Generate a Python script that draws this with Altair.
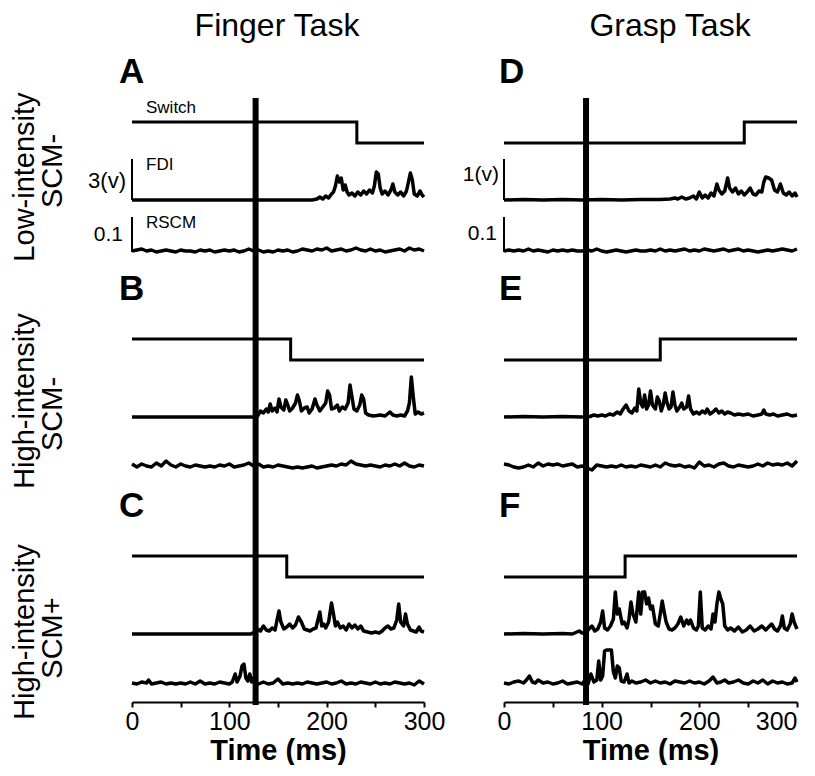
import altair as alt
import pandas as pd

# ---------------- data ----------------
TIME_TICKS = [0, 50, 100, 150, 200, 250, 300]
COLUMNS = ["Finger Task", "Grasp Task"]
PANELS = {"Finger Task": ["A", "B", "C"], "Grasp Task": ["D", "E", "F"]}
ROW_LABELS = [("Low-intensity", "SCM-"), ("High-intensity", "SCM-"), ("High-intensity", "SCM+")]
STIM_MS = {"Finger Task": 127, "Grasp Task": 84}
SWITCH_START = {"Finger Task": 1, "Grasp Task": 0}
SWITCH_MS = {"A": 231, "B": 163, "C": 159, "D": 246, "E": 160, "F": 124}
FDI_BAR_LABEL = {"Finger Task": "3(v)", "Grasp Task": "1(v)"}
RSCM_BAR_LABEL = "0.1"

# FDI EMG envelopes: (time ms, amplitude in display units; scale bar = 41 units)
FDI = {
    "A": [(0, 0), (185, 0), (190, 1), (193, 3), (196, 1), (199, 4), (202, 2), (205, 6), (207, 8), (209, 14),
          (211, 24), (213, 18), (215, 22), (217, 10), (219, 15), (221, 8), (223, 5), (226, 7), (229, 4), (232, 8),
          (235, 5), (238, 9), (241, 6), (244, 10), (247, 7), (249, 14), (251, 28), (253, 26), (255, 12), (257, 6),
          (260, 9), (263, 5), (266, 10), (268, 16), (270, 8), (273, 5), (276, 8), (279, 4), (282, 9), (284, 18),
          (286, 27), (288, 20), (290, 6), (293, 4), (296, 9), (298, 5), (300, 3)],
    "B": [(0, 0), (125, 0), (127, 3), (129, 1), (132, 6), (135, 4), (138, 8), (140, 5), (142, 13), (144, 6),
          (147, 9), (149, 5), (151, 18), (153, 10), (156, 7), (158, 17), (160, 12), (162, 6), (165, 9), (168, 14),
          (170, 22), (172, 16), (174, 6), (177, 9), (180, 10), (182, 4), (185, 8), (188, 18), (190, 12), (193, 6),
          (196, 10), (199, 14), (201, 26), (203, 22), (205, 8), (208, 9), (211, 12), (213, 6), (216, 10), (219, 8),
          (222, 14), (224, 32), (226, 20), (228, 8), (231, 6), (234, 12), (236, 22), (238, 18), (240, 4), (243, 2),
          (248, 1), (255, 2), (260, 1), (265, 5), (268, 2), (272, 1), (276, 2), (280, 1), (283, 6), (285, 14),
          (287, 40), (289, 20), (291, 3), (294, 5), (297, 3), (300, 4)],
    "C": [(0, 0), (122, 0), (126, 2), (129, 5), (132, 3), (135, 8), (138, 4), (141, 3), (144, 6), (147, 4),
          (149, 14), (151, 23), (153, 12), (156, 5), (159, 7), (162, 10), (165, 6), (168, 9), (171, 17), (174, 12),
          (177, 5), (180, 4), (183, 3), (186, 5), (189, 6), (191, 14), (193, 22), (195, 8), (197, 10), (199, 6),
          (202, 12), (205, 31), (207, 20), (209, 8), (211, 12), (214, 6), (217, 8), (220, 4), (223, 10), (226, 6),
          (229, 9), (232, 5), (235, 8), (238, 3), (242, 2), (246, 1), (250, 2), (254, 1), (257, 3), (260, 6),
          (263, 8), (266, 5), (269, 6), (272, 14), (274, 30), (276, 12), (279, 8), (281, 20), (283, 10), (286, 4),
          (289, 3), (292, 2), (295, 7), (297, 3), (300, 2)],
    "D": [(0, 0), (20, 0.5), (40, 0), (60, 0.5), (80, 0), (100, 0.5), (120, 0), (140, 0.5), (160, 0.5), (170, 1),
          (175, 2), (178, 1), (182, 3), (186, 1), (190, 2), (194, 4), (197, 1), (200, 8), (203, 2), (206, 5),
          (209, 2), (212, 7), (215, 4), (218, 16), (220, 10), (223, 6), (226, 9), (229, 22), (231, 12), (234, 8),
          (237, 12), (240, 6), (243, 9), (246, 5), (249, 8), (252, 12), (255, 6), (258, 5), (261, 9), (264, 8),
          (266, 18), (268, 23), (271, 22), (274, 20), (277, 10), (280, 8), (283, 16), (286, 7), (289, 5), (292, 8),
          (295, 4), (298, 7), (300, 3)],
    "E": [(0, 0), (20, 0.5), (40, 0), (60, 0.5), (80, 0), (88, 0.5), (92, 2), (96, 1), (100, 2), (104, 1),
          (108, 3), (112, 2), (116, 5), (119, 3), (122, 8), (125, 12), (128, 6), (131, 4), (134, 9), (136, 6),
          (138, 28), (140, 14), (142, 10), (144, 22), (146, 8), (148, 12), (150, 26), (152, 12), (155, 8), (157, 20),
          (159, 16), (161, 6), (163, 12), (165, 24), (167, 14), (169, 8), (171, 10), (173, 25), (175, 12), (177, 6),
          (180, 10), (182, 14), (184, 8), (187, 10), (189, 21), (191, 8), (194, 3), (197, 5), (200, 3), (203, 6),
          (206, 4), (208, 8), (211, 3), (214, 5), (217, 8), (220, 4), (223, 6), (226, 3), (229, 5), (232, 4),
          (236, 2), (240, 3), (245, 2), (250, 3), (255, 1), (260, 2), (264, 3), (266, 7), (268, 3), (272, 2),
          (276, 3), (280, 1), (285, 2), (290, 3), (295, 1), (300, 2)],
    "F": [(0, 0), (20, 0.5), (40, 0), (60, 0.5), (70, 0), (77, 3), (80, 1), (84, 2), (87, 5), (90, 8),
          (93, 3), (96, 5), (99, 12), (101, 23), (103, 6), (106, 4), (109, 8), (112, 15), (114, 42), (116, 20),
          (118, 25), (121, 10), (123, 12), (126, 6), (128, 15), (130, 32), (132, 20), (135, 12), (138, 42), (140, 20),
          (142, 42), (144, 42), (146, 30), (148, 36), (150, 25), (152, 28), (155, 10), (158, 8), (160, 20), (162, 33),
          (164, 22), (166, 12), (169, 5), (172, 4), (175, 6), (178, 10), (181, 17), (184, 8), (187, 14), (189, 10),
          (191, 14), (194, 6), (197, 4), (199, 8), (201, 42), (203, 6), (206, 4), (209, 8), (212, 5), (214, 20),
          (216, 12), (218, 30), (220, 42), (222, 35), (224, 30), (226, 8), (229, 4), (232, 6), (236, 3), (240, 7),
          (244, 2), (248, 4), (252, 8), (256, 3), (260, 5), (264, 8), (268, 4), (271, 7), (274, 10), (277, 5),
          (280, 3), (283, 8), (285, 18), (287, 6), (290, 4), (293, 10), (295, 20), (297, 12), (300, 5)],
}

# RSCM EMG sampled every 5 ms (amplitude in display units; scale bar = 35 units)
RSCM_5MS = {
    "A": [1, 2, 3, 1, 2, 0, 1, 2, 1, 0, 2, 1, 1, 0, 2, 1, 2, 0, 1, 2, 1, 2, 0, 1, 3, 1, 2, 0, 1, 0, 2,
          1, 2, 0, 1, 3, 2, 1, 3, 2, 4, 1, 2, 3, 1, 2, 4, 2, 1, 3, 1, 2, 0, 1, 2, 3, 1, 4, 2, 3, 1],
    "B": [5, 2, 5, 3, 2, 6, 3, 8, 4, 2, 5, 3, 2, 4, 3, 2, 3, 2, 4, 3, 5, 2, 3, 4, 6, 3, 5, 2, 3, 2, 4,
          3, 2, 1, 2, 1, 2, 3, 1, 2, 3, 4, 3, 5, 4, 8, 5, 4, 3, 4, 3, 2, 4, 3, 5, 3, 6, 3, 2, 4, 3],
    "D": [1, 2, 1, 2, 1, 3, 1, 2, 1, 0, 2, 1, 2, 1, 2, 1, 1, 2, 1, 3, 1, 0, 1, 2, 1, 0, 1, 2, 1, 1, 2,
          1, 3, 1, 2, 1, 2, 3, 1, 2, 1, 3, 2, 1, 2, 3, 1, 2, 3, 1, 2, 1, 0, 1, 2, 1, 2, 3, 2, 1, 3],
    "E": [5, 4, 2, 1, 2, 4, 2, 6, 3, 5, 4, 5, 3, 4, 5, 2, 3, 1, -1, 4, 3, 2, 3, 2, 4, 2, 3, 2, 4, 3, 2,
          4, 2, 6, 4, 3, 4, 2, 3, 1, 7, 3, 4, 2, 5, 6, 3, 2, 4, 3, 2, 3, 5, 3, 6, 4, 5, 4, 6, 3, 8],
}
RSCM_PTS = {
    "C": [(0, 3), (5, 2), (10, 4), (15, 3), (17, 6), (20, 2), (25, 3), (30, 4), (35, 2), (40, 3), (45, 2),
          (50, 3), (55, 2), (60, 4), (65, 2), (70, 5), (75, 2), (80, 3), (85, 2), (90, 4), (95, 3), (100, 2),
          (103, 4), (106, 12), (108, 4), (111, 10), (113, 20), (115, 22), (117, 8), (119, 5), (121, 12), (123, 4),
          (125, 8), (127, 3), (130, 2), (135, 4), (140, 2), (145, 3), (150, 7), (153, 4), (155, 2), (160, 3),
          (165, 2), (170, 3), (175, 2), (180, 4), (185, 3), (190, 2), (195, 3), (200, 4), (205, 2), (210, 3),
          (215, 5), (220, 2), (225, 3), (230, 2), (235, 4), (240, 3), (245, 2), (250, 4), (255, 2), (260, 3),
          (265, 2), (270, 4), (275, 3), (280, 2), (285, 3), (290, 1), (295, 5), (300, 2)],
    "F": [(0, 3), (5, 2), (10, 4), (15, 5), (20, 3), (23, 6), (26, 10), (29, 4), (32, 3), (35, 6), (40, 3),
          (45, 4), (50, 2), (55, 3), (60, 5), (65, 2), (70, 3), (75, 4), (80, 2), (83, 6), (86, 2), (89, 12),
          (92, 4), (95, 6), (97, 25), (99, 6), (101, 10), (103, 35), (105, 36), (107, 36), (110, 36), (112, 14),
          (114, 8), (116, 20), (118, 18), (120, 5), (123, 4), (126, 12), (128, 3), (131, 5), (135, 3), (140, 4),
          (145, 6), (150, 3), (155, 5), (160, 3), (165, 4), (170, 2), (175, 5), (180, 4), (185, 3), (190, 5),
          (195, 3), (200, 4), (205, 2), (210, 5), (214, 9), (218, 3), (222, 4), (226, 6), (230, 3), (235, 4),
          (240, 6), (245, 3), (250, 2), (255, 5), (260, 3), (265, 6), (270, 2), (275, 5), (280, 3), (285, 4),
          (290, 2), (295, 3), (298, 8), (300, 4)],
}

# ---------------- layout (display units, measured downward from plot top) ----------------
PLOT_H = 604
WIDTH = {"Finger Task": 292, "Grasp Task": 293}
ROW_STEP = 217
SW_LOW, SW_AMP = 45, 21
FDI_BASE, FDI_BAR = 102, 41
RSCM_BASE, RSCM_BAR = 154, 35
STIM_TOP, STIM_BOTTOM = 0, PLOT_H + 3

rows = []
for col in COLUMNS:
    for r, p in enumerate(PANELS[col]):
        off = r * ROW_STEP
        s0 = SWITCH_START[col]
        ts = SWITCH_MS[p]
        for i, (t, s) in enumerate([(0, s0), (ts, s0), (ts, 1 - s0), (300, 1 - s0)]):
            rows.append(dict(col=col, kind="switch", trace=p + "-switch", t=t, y=off + SW_LOW - s * SW_AMP, i=i))
        for i, (t, v) in enumerate(FDI[p]):
            rows.append(dict(col=col, kind="emg", trace=p + "-fdi", t=t, y=off + FDI_BASE - v, i=i))
        if p in RSCM_5MS:
            pts = [(5 * k, v) for k, v in enumerate(RSCM_5MS[p])]
        else:
            pts = RSCM_PTS[p]
        for i, (t, v) in enumerate(pts):
            rows.append(dict(col=col, kind="emg", trace=p + "-rscm", t=t, y=off + RSCM_BASE - v, i=i))
df = pd.DataFrame(rows)

ONE = pd.DataFrame({"k": [0]})


def label(text, x, y, size, weight="normal", align="left", angle=0, font="Liberation Sans", baseline="middle"):
    return alt.Chart(ONE).mark_text(
        text=text, align=align, baseline=baseline, fontSize=size, fontWeight=weight,
        font=font, angle=angle, color="black"
    ).encode(x=alt.value(x), y=alt.value(y))


def column_chart(col):
    if col == "Finger Task":
        label_align = "center"
    else:
        label_align = {"condition": {"test": "datum.value === 300", "value": "right"}, "value": "center"}
    x = alt.X("t:Q", scale=alt.Scale(domain=[0, 300], nice=False, zero=False),
              axis=alt.Axis(values=TIME_TICKS, labelExpr="datum.value % 100 === 0 ? datum.label : ''",
                            title="Time (ms)", grid=False, domainColor="black", domainWidth=2,
                            tickColor="black", tickWidth=2, tickSize=5, labelFont="Liberation Sans",
                            labelFontSize=25, labelColor="black", labelPadding=2, labelFlush=False,
                            labelOverlap=False, labelAlign=label_align,
                            titleFont="Liberation Sans", titleFontSize=29, titleFontWeight="bold",
                            titleColor="black", titlePadding=2))
    y = alt.Y("y:Q", scale=alt.Scale(domain=[0, PLOT_H], reverse=True, nice=False, zero=False), axis=None)

    d = df[df.col == col]
    switch = alt.Chart(d[d.kind == "switch"]).mark_line(
        color="black", strokeWidth=3.0, strokeJoin="miter").encode(x=x, y=y, detail="trace:N", order="i:Q")
    emg = alt.Chart(d[d.kind == "emg"]).mark_line(
        color="black", strokeWidth=3.5, strokeJoin="round").encode(x=x, y=y, detail="trace:N", order="i:Q")

    stim = alt.Chart(pd.DataFrame({"t": [STIM_MS[col]], "y": [STIM_TOP], "y2": [STIM_BOTTOM]})).mark_rule(
        color="black", strokeWidth=6).encode(x=x, y=y, y2="y2:Q")

    bars = alt.Chart(pd.DataFrame({
        "t": [0, 0], "y": [FDI_BASE, RSCM_BASE], "y2": [FDI_BASE - FDI_BAR, RSCM_BASE - RSCM_BAR]
    })).mark_rule(color="black", strokeWidth=2).encode(x=x, y=y, y2="y2:Q")

    layers = [switch, emg, stim, bars]
    if col == "Finger Task":
        layers.append(label("Finger Task", 145, -62, 32, align="center", baseline="alphabetic"))
        letter_x = -13
        layers += [
            label("Switch", 14, 10, 17), label("FDI", 14, 67, 17), label("RSCM", 14, 125, 17),
            label(FDI_BAR_LABEL[col], -6, 83, 22, align="right"),
            label(RSCM_BAR_LABEL, -9, 137, 21, align="right"),
        ]
        row_y = [(79, 73), (303, 316), (534, 540)]
        for (l1, l2), (y1, y2) in zip(ROW_LABELS, row_y):
            layers.append(label(l1, -107, y1, 29, align="center", angle=270))
            layers.append(label(l2, -79, y2, 29, align="center", angle=270))
    else:
        layers.append(label("Grasp Task", 166, -62, 32, align="center", baseline="alphabetic"))
        letter_x = -5
        layers += [
            label(FDI_BAR_LABEL[col], -5, 77, 21, align="right"),
            label(RSCM_BAR_LABEL, -7, 136, 21, align="right"),
        ]
    for r, p in enumerate(PANELS[col]):
        layers.append(label(p, letter_x, -26 + r * ROW_STEP, 35, weight="bold"))

    return alt.layer(*layers).properties(width=WIDTH[col], height=PLOT_H)


chart = alt.hconcat(
    column_chart("Finger Task"), column_chart("Grasp Task"),
    spacing=80, bounds="flush",
    padding={"left": 3, "top": 2, "right": 0, "bottom": 0},
).configure_view(stroke=None)

chart.save("out.html", embed_options={"renderer": "svg", "actions": False})
